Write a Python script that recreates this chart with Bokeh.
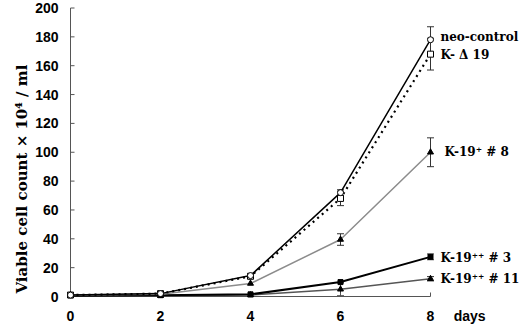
import math
from bokeh.plotting import figure
from bokeh.models import Range1d, FixedTicker, Label, Whisker, TeeHead, ColumnDataSource, Title
from bokeh.embed import file_html
from bokeh.resources import INLINE

# ---- data ----
days = [0, 2, 4, 6, 8]
neo = [1, 2, 14.5, 72, 178]
neo_err = [0, 0, 0, 2, 9]
kd19 = [1, 2, 14, 68, 168]
kd19_err = [0, 0, 0, 5, 11]
k8 = [1, 1.5, 9, 39.5, 100]
k8_err = [0, 0, 0, 4, 10]
k3 = [0.5, 0.8, 1.5, 10, 27.5]
k3_err = [0, 0, 0, 0, 2]
k11 = [0.5, 0.5, 1, 5, 12.3]
k11_err = [0, 0, 0, 4.5, 1.5]

y_ticks = [0, 20, 40, 60, 80, 100, 120, 140, 160, 180, 200]
x_ticks = [0, 2, 4, 6, 8]
x_unit_pos = 8.87
x_title = "days"

series_labels = ["neo-control", "K- \u0394 19", "K-19\u207a # 8", "K-19\u207a\u207a  # 3", "K-19\u207a\u207a # 11"]
label_y = [180, 167.5, 100.3, 26.8, 12.4]
label_x = [8.22, 8.22, 8.31, 8.22, 8.22]

y_title = "Viable cell count \u00d7 10\u2074 / ml"

SERIF = "DejaVu Serif"
SANS = "Liberation Sans"

p = figure(width=520, height=326, output_backend="svg", toolbar_location=None,
           x_range=Range1d(-0.178, 10.0), y_range=Range1d(-1.38, 205.2),
           min_border_left=62, min_border_right=0, min_border_top=0, min_border_bottom=0)
p.outline_line_color = None
p.grid.visible = False
p.background_fill_color = "white"

for ax in (p.xaxis[0], p.yaxis[0]):
    ax.axis_line_color = None
    ax.major_tick_in = 0
    ax.major_tick_out = 0
    ax.minor_tick_in = 0
    ax.minor_tick_out = 0
    ax.axis_label_standoff = 0
    ax.major_label_text_font = SANS
    ax.major_label_text_font_style = "bold"
    ax.major_label_text_font_size = "14px"
    ax.major_label_text_color = "black"
p.xaxis.ticker = FixedTicker(ticks=x_ticks + [x_unit_pos])
p.xaxis.major_label_overrides = {x_unit_pos: x_title}
p.yaxis.ticker = FixedTicker(ticks=y_ticks)
p.xaxis.major_label_standoff = 9
p.yaxis.major_label_standoff = 4

p.add_layout(Title(text=y_title, align="left", vertical_align="top", standoff=0, offset=5,
                   text_font=SERIF, text_font_style="bold",
                   text_font_size="15px", text_color="black"), "left")

# axis lines at the data origin
axis_col = "#555555"
p.segment(x0=[0, 0], y0=[0, 0], x1=[0, 8], y1=[200, 0], line_color=axis_col, line_width=1)
p.ray(x=[0] * len(y_ticks), y=y_ticks, length=4, length_units="screen", angle=0,
      line_color=axis_col, line_width=1)
p.ray(x=x_ticks[1:], y=[0] * (len(x_ticks) - 1), length=4, length_units="screen",
      angle=math.pi / 2, line_color=axis_col, line_width=1)


def whiskers(vals, errs):
    xs, lo, hi = [], [], []
    for d, v, e in zip(days, vals, errs):
        if e > 0:
            xs.append(d); lo.append(v - e); hi.append(v + e)
    src = ColumnDataSource(dict(x=xs, lo=lo, hi=hi))
    w = Whisker(source=src, base="x", lower="lo", upper="hi", dimension="height",
                line_color="#333333", line_width=1,
                upper_head=TeeHead(size=7, line_color="#333333", line_width=1),
                lower_head=TeeHead(size=7, line_color="#333333", line_width=1))
    p.add_layout(w)


# series
p.line(days, k11, line_color="#555555", line_width=1.5)
p.scatter(days, k11, marker="triangle", size=6, fill_color="black", line_color="black")
whiskers(k11, k11_err)

p.line(days, k3, line_color="black", line_width=2)
p.scatter(days, k3, marker="square", size=5, fill_color="black", line_color="black")
whiskers(k3, k3_err)

p.line(days, k8, line_color="#8c8c8c", line_width=1.5)
p.scatter(days, k8, marker="triangle", size=6, fill_color="black", line_color="black")
whiskers(k8, k8_err)

p.line(days, kd19, line_color="black", line_width=2.2, line_dash="2 4")
p.scatter(days, kd19, marker="square", size=6, fill_color="white", line_color="black")
whiskers(kd19, kd19_err)

p.line(days, neo, line_color="black", line_width=1.5)
p.scatter(days, neo, marker="circle", size=6, fill_color="white", line_color="black")
whiskers(neo, neo_err)

for t, lx, ly in zip(series_labels, label_x, label_y):
    p.add_layout(Label(x=lx, y=ly, text=t, text_font=SERIF, text_font_style="bold",
                       text_font_size="12px", text_align="left", text_baseline="middle",
                       text_color="black"))

open("out.html", "w").write(file_html(p, INLINE))
